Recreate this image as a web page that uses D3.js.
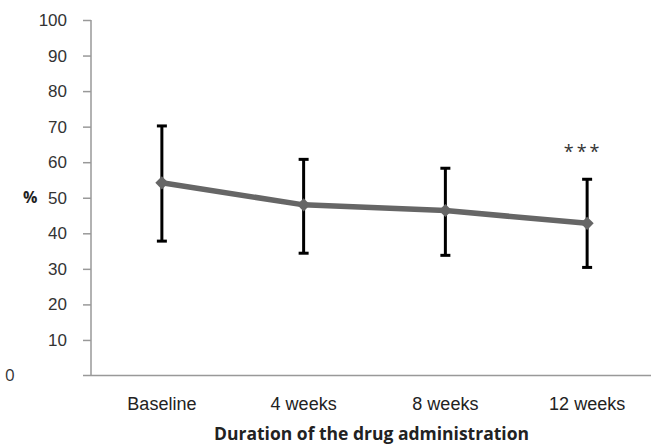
<!DOCTYPE html>
<html>
<head>
<meta charset="utf-8">
<script src="https://cdn.jsdelivr.net/npm/d3@7"></script>
<style>
  body { margin: 0; background: #fff; }
  svg { display: block; font-family: "Open Sans", "Noto Sans", sans-serif; }
</style>
</head>
<body>
<svg id="chart"></svg>
<script>
const categories = ["Baseline", "4 weeks", "8 weeks", "12 weeks"];
const means = [54.2, 48.0, 46.4, 42.8];
const upper = [70.2, 60.8, 58.3, 55.2];
const lower = [37.8, 34.4, 33.8, 30.4];
const yTicks = [10, 20, 30, 40, 50, 60, 70, 80, 90, 100];
const marks = ["", "", "", "***"];

const width = 653;
const height = 446;

const svg = d3.select("#chart").attr("width", width).attr("height", height);

const xScale = d3.scaleBand().domain(categories).range([91, 658]);
const yScale = d3.scaleLinear().domain([0, 100]).range([375.5, 20]);
const cx = (c) => xScale(c) + xScale.bandwidth() / 2;

// y axis
const yAxis = d3.axisLeft(yScale).tickValues(yTicks).tickSize(8).tickPadding(16);
const gy = svg.append("g").attr("transform", "translate(91,0)").call(yAxis);
gy.select(".domain").attr("stroke", "#999").attr("stroke-width", 1.5).attr("d", "M0,20V375.5");
gy.selectAll(".tick line").attr("stroke", "#999").attr("stroke-width", 1.5);
gy.selectAll(".tick text").attr("fill", "#333").style("font-size", "17px");

// stray zero label, as in the original
svg.append("text").attr("x", 5).attr("y", yScale(0)).attr("dy", "0.35em")
  .attr("fill", "#333").style("font-size", "17px").text("0");

// x axis
const xAxis = d3.axisBottom(xScale).tickSize(0).tickPadding(22);
const gx = svg.append("g").attr("transform", "translate(0," + yScale(0) + ")").call(xAxis);
gx.select(".domain").attr("stroke", "#999").attr("stroke-width", 1.5).attr("d", "M83,0H651");
gx.selectAll(".tick text").attr("fill", "#222").style("font-size", "18px");

// axis titles
svg.append("text").attr("x", 23).attr("y", yScale(50)).attr("dy", "0.35em")
  .attr("fill", "#222").style("font-size", "16px").style("font-weight", "bold").text("%");
svg.append("text").attr("x", 371.5).attr("y", 440).attr("text-anchor", "middle")
  .attr("fill", "#222").style("font-size", "17.5px").style("font-weight", "bold")
  .text("Duration of the drug administration");

// error bars
const eb = svg.append("g").attr("stroke", "#000").attr("stroke-width", 3);
categories.forEach((c, i) => {
  eb.append("line").attr("x1", cx(c)).attr("x2", cx(c)).attr("y1", yScale(upper[i])).attr("y2", yScale(lower[i]));
  eb.append("line").attr("x1", cx(c) - 5).attr("x2", cx(c) + 5).attr("y1", yScale(upper[i])).attr("y2", yScale(upper[i]));
  eb.append("line").attr("x1", cx(c) - 5).attr("x2", cx(c) + 5).attr("y1", yScale(lower[i])).attr("y2", yScale(lower[i]));
});

// mean line
const line = d3.line().x((d, i) => cx(categories[i])).y((d) => yScale(d));
svg.append("path").datum(means).attr("d", line)
  .attr("fill", "none").attr("stroke", "#666").attr("stroke-width", 5.5);

svg.selectAll(".pt").data(means).enter().append("path").attr("class", "pt")
  .attr("d", d3.symbol(d3.symbolDiamond2, 110))
  .attr("transform", (d, i) => "translate(" + cx(categories[i]) + "," + yScale(d) + ")")
  .attr("fill", "#666");

// significance marks
svg.selectAll(".sig").data(marks).enter().append("text").attr("class", "sig")
  .attr("x", (d, i) => cx(categories[i]) - 4)
  .attr("y", 158).attr("text-anchor", "middle")
  .attr("fill", "#333").style("font-size", "18px").style("letter-spacing", "3px")
  .text((d) => d);
</script>
</body>
</html>
